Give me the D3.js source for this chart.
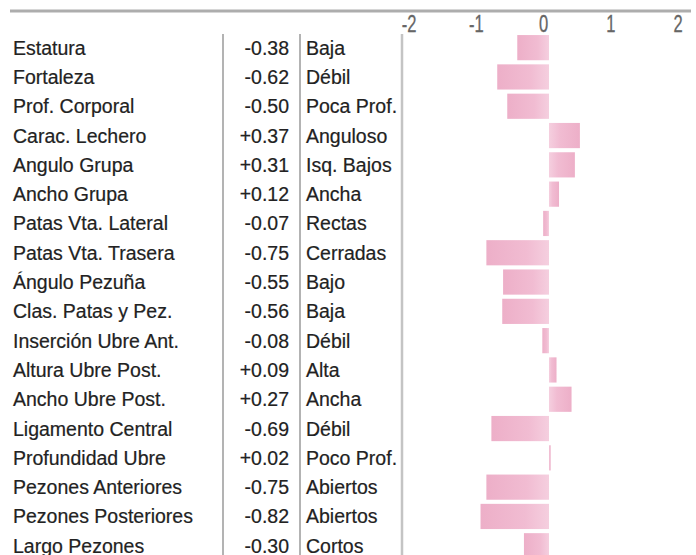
<!DOCTYPE html>
<html><head><meta charset="utf-8">
<script src="https://cdn.jsdelivr.net/npm/d3@7"></script>
<style>html,body{margin:0;padding:0;background:#fff;overflow:hidden}</style>
</head><body>
<svg id="c" width="696" height="555"></svg>
<script>
const traits = ["Estatura","Fortaleza","Prof. Corporal","Carac. Lechero","Angulo Grupa","Ancho Grupa","Patas Vta. Lateral","Patas Vta. Trasera","Ángulo Pezuña","Clas. Patas y Pez.","Inserción Ubre Ant.","Altura Ubre Post.","Ancho Ubre Post.","Ligamento Central","Profundidad Ubre","Pezones Anteriores","Pezones Posteriores","Largo Pezones"];
const values = [-0.38,-0.62,-0.50,0.37,0.31,0.12,-0.07,-0.75,-0.55,-0.56,-0.08,0.09,0.27,-0.69,0.02,-0.75,-0.82,-0.30];
const descriptors = ["Baja","Débil","Poca Prof.","Anguloso","Isq. Bajos","Ancha","Rectas","Cerradas","Bajo","Baja","Débil","Alta","Ancha","Débil","Poco Prof.","Abiertos","Abiertos","Cortos"];
const tickValues = [-2,-1,0,1,2];

const svg = d3.select("#c");
const font = "'Liberation Sans', Arial, Helvetica, sans-serif";

const defs = svg.append("defs");
function grad(id, dirRight) {
  const g = defs.append("linearGradient").attr("id", id)
    .attr("x1", dirRight ? "0" : "1").attr("x2", dirRight ? "1" : "0").attr("y1","0").attr("y2","0");
  g.append("stop").attr("offset","0").attr("stop-color","#f5cfdf");
  g.append("stop").attr("offset","0.35").attr("stop-color","#f1bcd2");
  g.append("stop").attr("offset","1").attr("stop-color","#edafc8");
}
grad("gpos", true);
grad("gneg", false);

const y = d3.scaleBand().domain(traits).range([33, 33 + 29.3 * traits.length]).paddingInner(0.14).paddingOuter(0.07);
const xBar = d3.scaleLinear().domain([-1, 1]).range([465.5, 632.5]);
const xAxis = d3.scaleLinear().domain([-2, 2]).range([409, 678]);

svg.append("line").attr("x1", 10).attr("x2", 691).attr("y1", 11).attr("y2", 11)
  .attr("stroke", "#adadad").attr("stroke-width", 3);

svg.append("g").selectAll("text").data(tickValues).join("text")
  .attr("transform", d => `translate(${xAxis(d)},32) scale(0.72,1)`)
  .attr("text-anchor", "middle")
  .attr("font-family", font).attr("font-size", 23).attr("fill", "#666")
  .attr("stroke", "#666").attr("stroke-width", 0.3)
  .text(d => d);

const seps = [{x:223, c:"#9a9a9a", w:1.5},{x:300, c:"#9a9a9a", w:1.5},{x:402, c:"#c4c4c4", w:2.5}];
svg.append("g").selectAll("line").data(seps).join("line")
  .attr("x1", d => d.x).attr("x2", d => d.x).attr("y1", 34).attr("y2", 555)
  .attr("stroke", d => d.c).attr("stroke-width", d => d.w);

svg.append("g").selectAll("rect").data(traits).join("rect")
  .attr("x", (d,i) => Math.min(xBar(0), xBar(values[i])))
  .attr("width", (d,i) => Math.abs(xBar(values[i]) - xBar(0)))
  .attr("y", d => y(d))
  .attr("height", y.bandwidth())
  .attr("fill", (d,i) => values[i] >= 0 ? "url(#gpos)" : "url(#gneg)");

const textCol = "#222";
function col(x, anchor, fn) {
  svg.append("g").selectAll("text").data(traits).join("text")
    .attr("x", x).attr("y", d => y(d) + y.bandwidth()/2).attr("dy", "0.36em")
    .attr("text-anchor", anchor)
    .attr("font-family", font).attr("font-size", 19.5).attr("fill", textCol)
    .attr("stroke", textCol).attr("stroke-width", 0.2)
    .text(fn);
}
const fmt = v => (v > 0 ? "+" : v < 0 ? "-" : "") + Math.abs(v).toFixed(2);
col(13, "start", d => d);
col(289, "end", (d,i) => fmt(values[i]));
col(306, "start", (d,i) => descriptors[i]);
</script>
</body></html>
